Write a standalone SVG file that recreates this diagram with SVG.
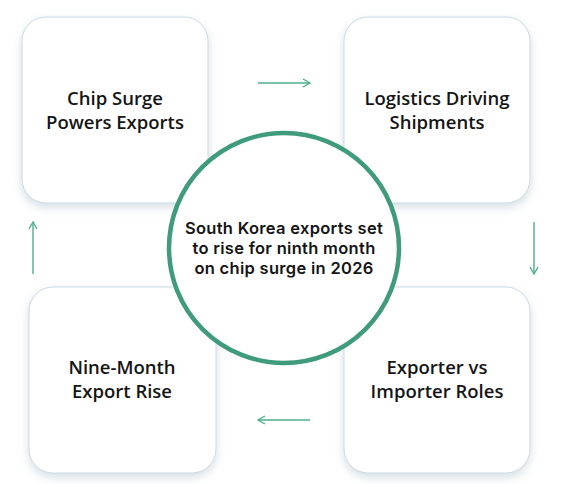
<svg xmlns="http://www.w3.org/2000/svg" width="566" height="484" viewBox="0 0 566 484">
  <defs>
    <filter id="sh" x="-20%" y="-20%" width="140%" height="140%">
      <feDropShadow dx="0" dy="4" stdDeviation="5" flood-color="#8aa3b3" flood-opacity="0.35"/>
    </filter>
    <marker id="ah" viewBox="0 0 10 10" refX="9" refY="5" markerWidth="10" markerHeight="10" markerUnits="userSpaceOnUse" orient="auto">
      <path d="M2,1 L9,5 L2,9" fill="none" stroke="#4fae8a" stroke-width="1.4"/>
    </marker>
    <style>
      .box{fill:#ffffff;stroke:#c9dbe3;stroke-width:1;filter:url(#sh)}
      .lbl{font-family:"Open Sans","Noto Sans",sans-serif;font-size:18.5px;font-weight:600;fill:#151515;text-anchor:middle}
      .ctr{font-family:"Inter","Noto Sans",sans-serif;font-size:16.5px;font-weight:600;letter-spacing:0.3px;fill:#151515;text-anchor:middle}
      .con{fill:none;stroke:#4fae8a;stroke-width:1.4;marker-end:url(#ah)}
    </style>
  </defs>
  <rect width="566" height="484" fill="#ffffff"/>
  <g id="node-chip">
    <rect class="box" x="22" y="17" width="186" height="186" rx="24"/>
    <text class="lbl" x="115" y="105">Chip Surge</text>
    <text class="lbl" x="115" y="129">Powers Exports</text>
  </g>
  <g id="node-logistics">
    <rect class="box" x="344" y="17" width="186" height="186" rx="24"/>
    <text class="lbl" x="437" y="105">Logistics Driving</text>
    <text class="lbl" x="437" y="129">Shipments</text>
  </g>
  <g id="node-nine">
    <rect class="box" x="29" y="287" width="187" height="186" rx="24"/>
    <text class="lbl" x="122" y="374">Nine-Month</text>
    <text class="lbl" x="122" y="398">Export Rise</text>
  </g>
  <g id="node-exporter">
    <rect class="box" x="344" y="287" width="186" height="186" rx="24"/>
    <text class="lbl" x="437" y="374">Exporter vs</text>
    <text class="lbl" x="437" y="398">Importer Roles</text>
  </g>
  <g id="connectors">
    <line class="con" x1="258" y1="83" x2="310" y2="83"/>
    <line class="con" x1="534" y1="222" x2="534" y2="274"/>
    <line class="con" x1="310" y1="420" x2="258" y2="420"/>
    <line class="con" x1="33" y1="274" x2="33" y2="222"/>
  </g>
  <g id="node-center">
    <circle cx="284" cy="248" r="115" fill="#ffffff" stroke="#3f9b7b" stroke-width="4.5"/>
    <text class="ctr" x="284" y="234">South Korea exports set</text>
    <text class="ctr" x="284" y="254">to rise for ninth month</text>
    <text class="ctr" x="284" y="274">on chip surge in 2026</text>
  </g>
</svg>
